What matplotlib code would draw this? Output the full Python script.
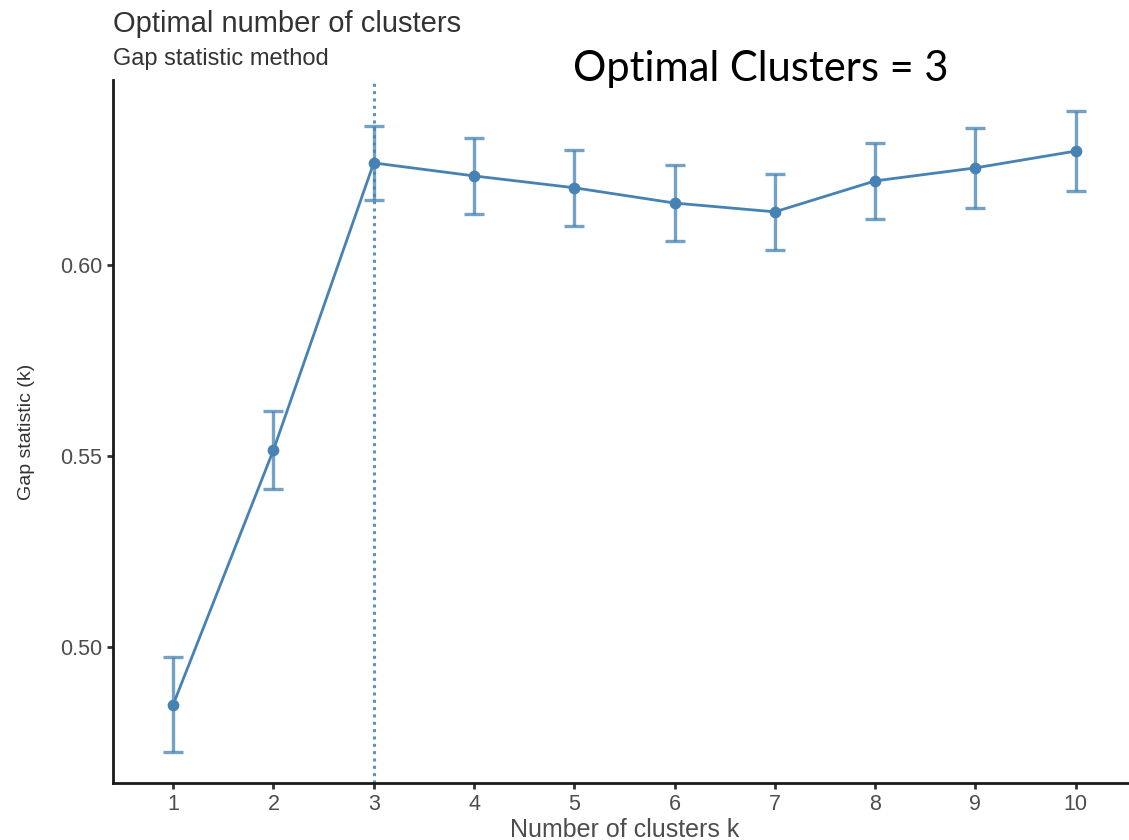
import numpy as np
import matplotlib
matplotlib.use('Agg')
import matplotlib.pyplot as plt

# Gap statistic results for k = 1..10
k = [1, 2, 3, 4, 5, 6, 7, 8, 9, 10]
gap = [0.4850, 0.5516, 0.6267, 0.6233, 0.6202, 0.6162, 0.6139, 0.6220, 0.6254, 0.6298]
se = [0.0124, 0.0103, 0.0096, 0.0099, 0.0100, 0.0100, 0.0100, 0.0100, 0.0105, 0.0104]
optimal_k = 3

y_ticks = [0.50, 0.55, 0.60]
y_ticklabels = ['0.50', '0.55', '0.60']

line_color = '#4682B4'
grey_text = '#4D4D4D'

plt.rcParams['font.family'] = ['Liberation Sans', 'DejaVu Sans']

fig = plt.figure(figsize=(11.29, 8.40), dpi=100)
ax = fig.add_axes([0.1001, 0.0679, 0.906, 0.8369])

# error bars, line and points
ax.errorbar(k, gap, yerr=se, fmt='none', ecolor=line_color, alpha=0.75,
            elinewidth=2.4, capsize=7, capthick=2.4, zorder=2)
ax.plot(k, gap, color=line_color, linewidth=2, zorder=3)
ax.scatter(k, gap, color=line_color, s=55, zorder=4)
ax.axvline(optimal_k, color='#5b93c7', linestyle=(0, (1.0, 1.4)),
           linewidth=2.2, zorder=1)

ax.set_xlim(0.4, 10.6)
ax.set_ylim(0.4645, 0.6484)
ax.set_xticks(k)
ax.set_xticklabels([str(v) for v in k])
ax.set_yticks(y_ticks)
ax.set_yticklabels(y_ticklabels)

for side in ['top', 'right']:
    ax.spines[side].set_visible(False)
for side in ['left', 'bottom']:
    ax.spines[side].set_linewidth(2)
    ax.spines[side].set_color('#1a1a1a')
ax.tick_params(axis='both', length=4, width=2, color='#333333',
               labelsize=15.5, labelcolor=grey_text, pad=4)

ax.set_xlabel('Number of clusters k', fontsize=18, color=grey_text, labelpad=2)
ax.set_ylabel('Gap statistic (k)', fontsize=14, color='#333333', labelpad=18)

fig.text(0.1001, 0.962, 'Optimal number of clusters', fontsize=21, color='#333333',
         ha='left', va='baseline')
fig.text(0.1001, 0.923, 'Gap statistic method', fontsize=17, color='#333333',
         ha='left', va='baseline')
fig.text(0.5075, 0.903, 'Optimal Clusters = 3', fontsize=30, color='black',
         family=['Lato', 'DejaVu Sans'], ha='left', va='baseline')

fig.savefig('out.png', dpi=100)
